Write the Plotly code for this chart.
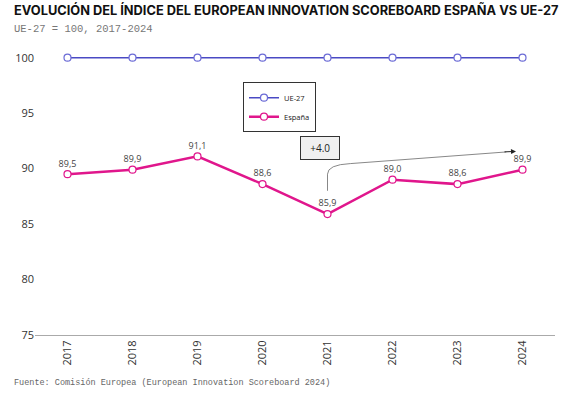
import plotly.graph_objects as go

years = [2017, 2018, 2019, 2020, 2021, 2022, 2023, 2024]
ue27 = [100, 100, 100, 100, 100, 100, 100, 100]
espana = [89.5, 89.9, 91.1, 88.6, 85.9, 89.0, 88.6, 89.9]
espana_labels = ["89,5", "89,9", "91,1", "88,6", "85,9", "89,0", "88,6", "89,9"]
y_ticks = [75, 80, 85, 90, 95, 100]

PINK = "#E0168C"
BLUE = "#4A4AC4"

fig = go.Figure()
fig.add_trace(go.Scatter(
    x=years, y=ue27, name="UE-27", mode="lines+markers",
    line=dict(color=BLUE, width=1.5),
    marker=dict(symbol="circle", size=7, color="white", line=dict(color="#6B6BD6", width=1.2)),
))
fig.add_trace(go.Scatter(
    x=years, y=espana, name="España", mode="lines+markers+text",
    text=espana_labels, textposition="top center",
    textfont=dict(family="Open Sans", size=9, color="#444444"),
    line=dict(color=PINK, width=2.5),
    marker=dict(symbol="circle", size=7, color="white", line=dict(color=PINK, width=1.2)),
))

# curved arrow from 2021 to 2024
fig.add_shape(type="path", xref="x", yref="y",
              path="M 2021,88.0 L 2021,89.5 Q 2021,90.35 2021.35,90.45 L 2023.75,91.5",
              line=dict(color="#888888", width=1))
fig.add_annotation(x=2023.9, y=91.55, ax=2023.7, ay=91.5, xref="x", yref="y",
                   axref="x", ayref="y", text="", showarrow=True,
                   arrowhead=2, arrowsize=1, arrowwidth=1, arrowcolor="#222222")
fig.add_annotation(x=2020.89, y=91.9, xref="x", yref="y", text="  +4.0  ", showarrow=False,
                   font=dict(family="Open Sans", size=10, color="#222222"),
                   bgcolor="#F0F0F0", bordercolor="#333333", borderwidth=1, borderpad=4)

fig.update_layout(
    width=574, height=398,
    margin=dict(l=35, r=19, t=46, b=63),
    paper_bgcolor="white", plot_bgcolor="white",
    showlegend=True,
    legend=dict(x=0.40, y=0.875, xanchor="left", yanchor="top",
                bgcolor="white", bordercolor="#333333", borderwidth=1,
                font=dict(family="Open Sans", size=7.5, color="#222222"),
                itemwidth=30, tracegroupgap=0),
    xaxis=dict(range=[2016.5, 2024.5], tickmode="array", tickvals=years,
               ticktext=[str(y) for y in years], tickangle=-90,
               showgrid=False, zeroline=False, showline=True, linecolor="#AAAAAA",
               linewidth=1, ticks="",
               tickfont=dict(family="Open Sans", size=11, color="#333333")),
    yaxis=dict(range=[75, 101.05], tickmode="array", tickvals=y_ticks,
               showgrid=False, zeroline=False, showline=False, ticks="",
               tickfont=dict(family="Open Sans", size=11, color="#333333")),
)

fig.add_annotation(xref="paper", yref="paper", x=-0.045, y=1.125, xanchor="left", yanchor="middle",
                   text="<b>EVOLUCIÓN DEL ÍNDICE DEL EUROPEAN INNOVATION SCOREBOARD ESPAÑA VS UE-27</b>",
                   showarrow=False, font=dict(family="Inter", size=12.8, color="#111111", weight=900))
fig.add_annotation(xref="paper", yref="paper", x=-0.045, y=1.06, xanchor="left", yanchor="middle",
                   text="UE-27 = 100, 2017-2024", showarrow=False,
                   font=dict(family="Liberation Mono", size=10.5, color="#777777"))
fig.add_annotation(xref="paper", yref="paper", x=-0.045, y=-0.165, xanchor="left", yanchor="middle",
                   text="Fuente: Comisión Europea (European Innovation Scoreboard 2024)", showarrow=False,
                   font=dict(family="Liberation Mono", size=8.5, color="#666666"))

fig.write_html("out.html", post_script="document.body.style.margin='0';",
               config={"displayModeBar": False})
